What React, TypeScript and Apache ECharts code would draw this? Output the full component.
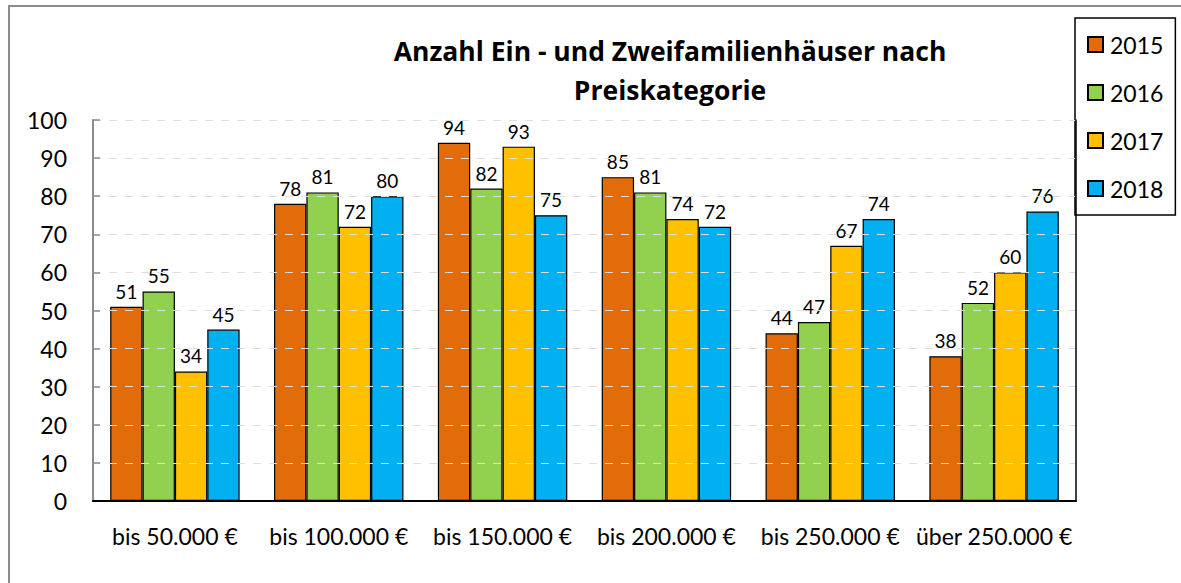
import React, { useEffect, useRef } from "react";
import * as echarts from "echarts";

const categories = ["bis 50.000 €", "bis 100.000 €", "bis 150.000 €", "bis 200.000 €", "bis 250.000 €", "über 250.000 €"];
const years = ["2015", "2016", "2017", "2018"];
const values2015 = [51, 78, 94, 85, 44, 38];
const values2016 = [55, 81, 82, 81, 47, 52];
const values2017 = [34, 72, 93, 74, 67, 60];
const values2018 = [45, 80, 75, 72, 74, 76];
const colors = ["#E36C0A", "#92D050", "#FFC000", "#00B0F0"];
const titleText = "Anzahl Ein - und Zweifamilienhäuser nach\nPreiskategorie";

const FONT = "Lato";

export default function App() {
  const ref = useRef<HTMLDivElement>(null);
  useEffect(() => {
    if (!ref.current) return;
    const chart = echarts.init(ref.current, null, { renderer: "svg" });
    const seriesData = [values2015, values2016, values2017, values2018];
    chart.setOption({
      animation: false,
      backgroundColor: "#ffffff",
      title: {
        text: titleText,
        left: 665,
        textAlign: "center",
        top: 26,
        textStyle: { fontFamily: "Open Sans", fontSize: 26.5, fontWeight: "bold", color: "#000", lineHeight: 39 },
      },
      legend: {
        orient: "vertical",
        left: 1075,
        top: 18,
        padding: [15, 12, 15, 12],
        itemGap: 25,
        itemWidth: 15,
        itemHeight: 15,
        icon: "rect",
        borderColor: "#000",
        borderWidth: 1.5,
        backgroundColor: "#fff",
        textStyle: { fontFamily: FONT, fontSize: 23, color: "#000", lineHeight: 22, padding: [0, 0, 0, 2] },
        data: years,
      },
      graphic: [
        {
          type: "rect",
          shape: { x: 9, y: 6, width: 1500, height: 900 },
          style: { fill: "none", stroke: "#8c8c8c", lineWidth: 2 },
          silent: true,
          z: 100,
        },
      ],
      grid: {
        left: 93,
        right: 105,
        top: 120,
        bottom: 82,
      },
      xAxis: [
        {
          type: "category",
          data: categories,
          axisLine: { show: true, lineStyle: { color: "#8c8c8c", width: 2 } },
          axisTick: { show: false },
          axisLabel: { fontFamily: FONT, fontSize: 23, color: "#000", margin: 23, interval: 0 },
          z: 5,
        },
        {
          type: "category",
          data: categories,
          position: "top",
          axisLine: { show: true, lineStyle: { color: "#000", width: 2 } },
          axisTick: { show: false },
          axisLabel: { show: false },
          splitLine: { show: false },
          z: 6,
        },
      ],
      yAxis: [
        {
          type: "value",
          min: 0,
          max: 100,
          interval: 10,
          axisLine: { show: true, lineStyle: { color: "#8c8c8c", width: 2 } },
          axisTick: { show: true, inside: true, length: 7, lineStyle: { color: "#8c8c8c", width: 1.5 } },
          axisLabel: { fontFamily: FONT, fontSize: 23, color: "#000", margin: 26 },
          splitLine: { show: true, lineStyle: { color: "#dedede", type: [8, 8], width: 1 } },
          z: 5,
        },
        {
          type: "value",
          min: 0,
          max: 100,
          interval: 10,
          position: "right",
          axisLine: { show: true, lineStyle: { color: "#000", width: 1.5 } },
          axisTick: { show: false },
          axisLabel: { show: false },
          splitLine: { show: false },
          z: 5,
        },
      ],
      series: years.map((y, i) => ({
        name: y,
        type: "bar",
        data: seriesData[i],
        xAxisIndex: 0,
        yAxisIndex: 0,
        barGap: "0%",
        barCategoryGap: "21%",
        itemStyle: { color: colors[i], borderColor: "#000", borderWidth: 1.2 },
        label: {
          show: true,
          position: "top",
          distance: 6,
          fontFamily: FONT,
          fontSize: 19,
          color: "#000",
        },
      })),
    });
    return () => chart.dispose();
  }, []);
  return (
    <div
      ref={ref}
      style={{ position: "fixed", left: 0, top: 0, width: 1181, height: 583, background: "#fff" }}
    />
  );
}
